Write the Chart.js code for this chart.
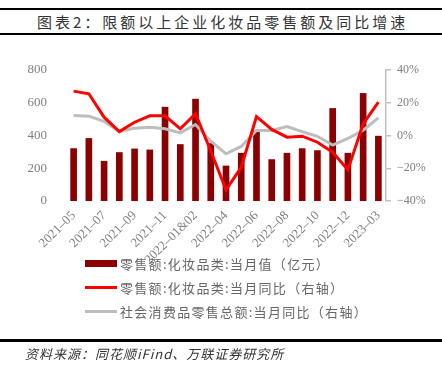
<!DOCTYPE html>
<html>
<head>
<meta charset="utf-8">
<script src="https://cdn.jsdelivr.net/npm/chart.js@4"></script>
<style>
  body { margin: 0; background: #fff; }
  #wrap { position: relative; width: 442px; height: 376px; background: #fff; overflow: hidden; }
  #title {
    position: absolute; left: 0; top: 8px; width: 442px; height: 23px;
    border-top: 2px solid #000; border-bottom: 2px solid #000;
    font: 15px "Noto Sans CJK SC", sans-serif; letter-spacing: 3px; color: #333;
    line-height: 23px; padding-left: 37px; box-sizing: content-box;
  }
  #chart { position: absolute; left: 0; top: 0; }
  #legend { position: absolute; left: 85px; top: 251px; }
  .item { height: 24px; display: flex; align-items: center;
    font: 13px "Noto Sans CJK SC", sans-serif; letter-spacing: 1.3px; color: #666; }
  .swatch { width: 32px; margin-right: 3px; }
  #footline { position: absolute; left: 0; top: 339px; width: 442px; border-top: 3px solid #000; }
  #source { position: absolute; left: 25px; top: 344px;
    font: italic 13px "Noto Sans CJK SC", sans-serif; letter-spacing: 1px; color: #333; }
</style>
</head>
<body>
<div id="wrap">
  <div id="title">图表2：限额以上企业化妆品零售额及同比增速</div>
  <canvas id="chart" width="442" height="376"></canvas>
  <div id="legend"></div>
  <div id="footline"></div>
  <div id="source">资料来源：同花顺iFind、万联证券研究所</div>
</div>
<script>
const categories = ['2021-05', '2021-06', '2021-07', '2021-08', '2021-09', '2021-10', '2021-11', '2021-12',
    '2022-01&02', '2022-03', '2022-04', '2022-05', '2022-06', '2022-07', '2022-08', '2022-09', '2022-10',
    '2022-11', '2022-12', '2023-01&02', '2023-03'];
const cosmeticsValue = [320, 382, 243, 296, 318, 312, 573, 345, 622, 351, 214, 292, 427, 253, 292, 320, 308, 565, 292, 657, 396];
const cosmeticsYoY = [27.1, 25.5, 11.2, 2.4, 8.1, 12.0, 12.0, 4.1, 13.3, -9.5, -33.2, -19.4, 11.6, 3.7, -1.0, -0.4, -4.1, -10.2, -21.0, 7.1, 20.4];
const totalRetailYoY = [12.2, 11.8, 8.6, 2.4, 4.5, 5.1, 4.1, 1.6, 6.7, -3.5, -11.2, -6.7, 3.1, 3.1, 5.5, 2.4, -0.5, -5.9, -1.8, 3.2, 10.8];
const leftTicks = [0, 200, 400, 600, 800];
const rightTicks = [-40, -20, 0, 20, 40];

const seriesNames = ['零售额:化妆品类:当月值（亿元）', '零售额:化妆品类:当月同比（右轴）', '社会消费品零售总额:当月同比（右轴）'];
const barColor = '#8b0000';
const redColor = '#ff0000';
const grayColor = '#bdbdbd';

const axisFont = { family: '"Liberation Serif", serif', size: 13 };

const ctx = document.getElementById('chart').getContext('2d');
const chart = new Chart(ctx, {
    data: {
        labels: categories,
        datasets: [
            {
                type: 'line',
                label: seriesNames[2],
                data: totalRetailYoY,
                yAxisID: 'yRight',
                borderColor: grayColor,
                borderWidth: 3,
                pointRadius: 0,
                tension: 0,
                order: 1,
            },
            {
                type: 'line',
                label: seriesNames[1],
                data: cosmeticsYoY,
                yAxisID: 'yRight',
                borderColor: redColor,
                borderWidth: 3,
                pointRadius: 0,
                tension: 0,
                order: 0,
            },
            {
                type: 'bar',
                label: seriesNames[0],
                data: cosmeticsValue,
                yAxisID: 'yLeft',
                backgroundColor: barColor,
                barThickness: 6,
                order: 2,
            },
        ]
    },
    options: {
        responsive: false,
        animation: false,
        layout: { padding: { top: 70, left: 0, right: 0, bottom: 0 } },
        plugins: {
            legend: { display: false },
            tooltip: { enabled: false },
        },
        scales: {
            x: {
                offset: true,
                grid: { display: false, drawTicks: false },
                border: { display: false },
                ticks: {
                    autoSkip: false,
                    minRotation: 45,
                    maxRotation: 45,
                    padding: 7,
                    color: '#808080',
                    font: { family: '"Liberation Serif", serif', size: 13 },
                    callback: function (value, index) {
                        return index % 2 === 0 ? this.getLabelForValue(value).replace('-', '–') : '';
                    }
                },
                afterFit: (scale) => { scale.height = 175; },
            },
            yLeft: {
                position: 'left',
                min: 0,
                max: 800,
                afterBuildTicks: (scale) => { scale.ticks = leftTicks.map(v => ({ value: v })); },
                grid: { display: false, drawTicks: false },
                border: { display: false },
                ticks: { padding: 19, color: '#808080', font: axisFont },
                afterFit: (scale) => { scale.width = 66; },
            },
            yRight: {
                position: 'right',
                min: -40,
                max: 40,
                afterBuildTicks: (scale) => { scale.ticks = rightTicks.map(v => ({ value: v })); },
                grid: { display: true, drawOnChartArea: false, tickLength: 5, color: '#bfbfbf', lineWidth: 1.5 },
                border: { display: true, color: '#bfbfbf', width: 1.5 },
                ticks: {
                    padding: 6,
                    color: '#808080',
                    font: { family: '"Liberation Serif", serif', size: 12 },
                    callback: (v) => (v < 0 ? '−' + Math.abs(v) : v) + '%',
                },
                afterFit: (scale) => { scale.width = 56; },
            },
        }
    }
});

// legend built from the chart datasets, listed in the reference order
const legendEl = document.getElementById('legend');
[2, 1, 0].forEach((i) => {
    const ds = chart.data.datasets[i];
    const item = document.createElement('div');
    item.className = 'item';
    const sw = document.createElement('span');
    sw.className = 'swatch';
    if (ds.type === 'bar') {
        sw.style.height = '7px';
        sw.style.background = ds.backgroundColor;
    } else {
        sw.style.height = '3px';
        sw.style.background = ds.borderColor;
    }
    item.appendChild(sw);
    item.appendChild(document.createTextNode(ds.label));
    legendEl.appendChild(item);
});
</script>
</body>
</html>
